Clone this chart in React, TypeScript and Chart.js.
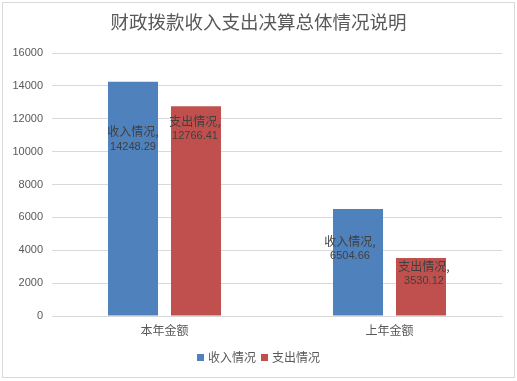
import React, { useEffect, useRef } from "react";
import { Chart, registerables } from "chart.js";

Chart.register(...registerables);

const title = "财政拨款收入支出决算总体情况说明";
const categories = ["本年金额", "上年金额"];
const seriesNames = ["收入情况", "支出情况"];
const incomeValues = [14248.29, 6504.66];
const expenseValues = [12766.41, 3530.12];
const yTicks = [0, 2000, 4000, 6000, 8000, 10000, 12000, 14000, 16000];
const colors = ["#4F81BD", "#C0504D"];

const CJK = '"Noto Sans CJK SC", sans-serif';
const NUM = '"Liberation Sans", Arial, sans-serif';

// per-label offsets (pixels) relative to bar top / bar centre, [dataset][index]
const labelDy = [
  [50, 32],
  [15, 8],
];
const labelDx = [
  [0, -8],
  [-1, 3],
];

const fmt = (v: number) => v.toFixed(2);

const overlayPlugin = {
  id: "overlay",
  afterDatasetsDraw(chart: any) {
    const ctx = chart.ctx;
    ctx.save();
    chart.data.datasets.forEach((ds: any, di: number) => {
      const meta = chart.getDatasetMeta(di);
      meta.data.forEach((bar: any, i: number) => {
        const x = bar.x + labelDx[di][i];
        const y = bar.y + labelDy[di][i];
        ctx.textAlign = "center";
        ctx.textBaseline = "middle";
        ctx.fillStyle = "#404040";
        ctx.font = `12px ${CJK}`;
        ctx.fillText(ds.label + ",", x, y);
        ctx.font = `11px ${NUM}`;
        ctx.fillText(fmt(ds.data[i]), x, y + 15);
      });
    });
    ctx.restore();
  },
  afterDraw(chart: any) {
    const ctx = chart.ctx;
    const w = chart.width;
    ctx.save();
    // title
    ctx.fillStyle = "#595959";
    ctx.font = `18.5px ${CJK}`;
    ctx.textAlign = "center";
    ctx.textBaseline = "middle";
    ctx.fillText(title, w / 2, 22);
    // legend
    ctx.font = `12px ${CJK}`;
    const box = 7;
    const gap = 4;
    const itemGap = 5;
    const widths = seriesNames.map((n) => box + gap + ctx.measureText(n).width);
    const total = widths.reduce((a, b) => a + b, 0) + itemGap * (widths.length - 1);
    let x = Math.round(259 - total / 2);
    const ly = 357;
    ctx.textAlign = "left";
    seriesNames.forEach((n, i) => {
      ctx.fillStyle = colors[i];
      ctx.fillRect(x, ly - 3, box, box);
      ctx.fillStyle = "#595959";
      ctx.fillText(n, x + box + gap, ly);
      x += widths[i] + itemGap;
    });
    ctx.restore();
  },
};

export default function App() {
  const ref = useRef<HTMLCanvasElement>(null);
  useEffect(() => {
    document.body.style.margin = "0";
    const chart = new Chart(ref.current!, {
      type: "bar",
      data: {
        labels: categories,
        datasets: [
          {
            label: seriesNames[0],
            data: incomeValues,
            backgroundColor: colors[0],
            categoryPercentage: 0.56,
            barPercentage: 0.794,
          },
          {
            label: seriesNames[1],
            data: expenseValues,
            backgroundColor: colors[1],
            categoryPercentage: 0.56,
            barPercentage: 0.794,
          },
        ],
      },
      options: {
        animation: false,
        responsive: false,
        maintainAspectRatio: false,
        layout: { padding: { top: 53, bottom: 35, left: 0, right: 15 } },
        plugins: {
          legend: { display: false },
          title: { display: false },
          tooltip: { enabled: false },
        },
        scales: {
          x: {
            grid: { display: false, drawTicks: false },
            border: { color: "#D9D9D9" },
            ticks: { color: "#595959", font: { family: CJK, size: 12 }, padding: 7 },
            afterFit: (s: any) => {
              s.height = 30;
            },
          },
          y: {
            min: 0,
            max: 16000,
            afterBuildTicks: (s: any) => {
              s.ticks = yTicks.map((v) => ({ value: v }));
            },
            grid: { color: "#D9D9D9", drawTicks: false },
            border: { display: false },
            ticks: {
              color: "#595959",
              font: { family: NUM, size: 11 },
              padding: 9,
              callback: (v: any) => String(v),
            },
            afterFit: (s: any) => {
              s.width = 52;
            },
          },
        },
      },
      plugins: [overlayPlugin],
    });
    return () => chart.destroy();
  }, []);
  return (
    <div style={{ position: "relative", width: 517, height: 381, background: "#fff" }}>
      <canvas ref={ref} width={517} height={381} style={{ display: "block" }} />
      <div
        style={{
          position: "absolute",
          left: 2,
          top: 2,
          width: 511,
          height: 374,
          border: "1px solid #D9D9D9",
          pointerEvents: "none",
        }}
      />
    </div>
  );
}
